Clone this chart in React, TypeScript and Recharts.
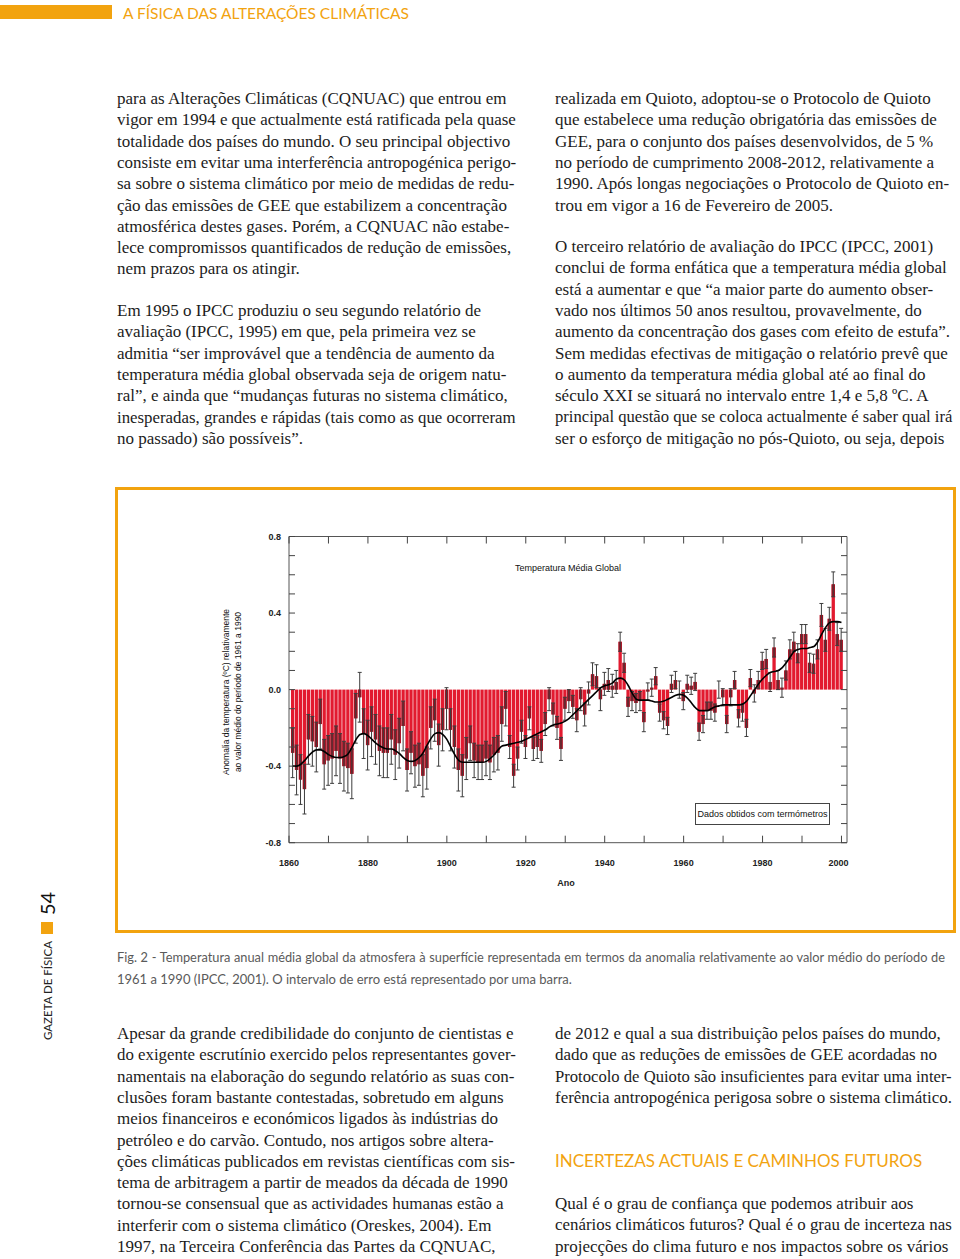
import React from 'react';
import { ComposedChart, Bar, Line, XAxis, YAxis, ErrorBar, ReferenceArea } from 'recharts';

// ---------------- data ----------------
const START_YEAR = 1861;

const ANOMALY = [
  -0.33, -0.42, -0.47, -0.52, -0.26, -0.27, -0.30, -0.18, -0.39, -0.37,
  -0.36, -0.32, -0.36, -0.40, -0.41, -0.44, -0.15, -0.04, -0.23, -0.29,
  -0.22, -0.26, -0.32, -0.33, -0.33, -0.26, -0.34, -0.28, -0.19, -0.42,
  -0.33, -0.40, -0.39, -0.45, -0.41, -0.20, -0.16, -0.29, -0.21, -0.10,
  -0.21, -0.30, -0.42, -0.45, -0.36, -0.28, -0.37, -0.38, -0.38, -0.36,
  -0.38, -0.34, -0.33, -0.18, -0.10, -0.30, -0.45, -0.36, -0.22, -0.30,
  -0.15, -0.31, -0.30, -0.32, -0.18, -0.05, -0.13, -0.20, -0.31, -0.10,
  -0.06, -0.09, -0.16, -0.05, -0.13, -0.02, 0.08, 0.07, -0.05, 0.03,
  0.05, 0.02, 0.04, 0.25, 0.14, -0.09, -0.06, -0.07, -0.06, -0.17,
  -0.01, 0.01, 0.07, -0.12, -0.16, -0.19, 0.03, 0.05, 0.0, -0.06,
  0.03, 0.02, 0.04, -0.22, -0.18, -0.11, -0.11, -0.12, 0.0, -0.04,
  -0.18, -0.04, 0.05, -0.15, -0.12, -0.20, 0.06, -0.02, 0.05, 0.15,
  0.16, 0.04, 0.22, 0.05, 0.01, 0.10, 0.21, 0.25, 0.19, 0.29,
  0.29, 0.14, 0.135, 0.21, 0.39, 0.26, 0.37, 0.55, 0.29, 0.26,
];

const ERROR = [
  0.13, 0.13, 0.13, 0.13, 0.13, 0.13, 0.13, 0.13, 0.13, 0.13,
  0.13, 0.13, 0.13, 0.13, 0.13, 0.13, 0.13, 0.13, 0.13, 0.13,
  0.13, 0.13, 0.13, 0.13, 0.13, 0.13, 0.13, 0.13, 0.13, 0.11,
  0.11, 0.11, 0.11, 0.11, 0.11, 0.11, 0.11, 0.11, 0.11, 0.11,
  0.11, 0.11, 0.11, 0.11, 0.11, 0.09, 0.09, 0.09, 0.09, 0.09,
  0.09, 0.09, 0.09, 0.09, 0.09, 0.06, 0.06, 0.06, 0.06, 0.06,
  0.06, 0.06, 0.06, 0.06, 0.06, 0.06, 0.06, 0.06, 0.06, 0.06,
  0.06, 0.06, 0.06, 0.06, 0.06, 0.06, 0.06, 0.06, 0.06, 0.06,
  0.06, 0.06, 0.06, 0.05, 0.05, 0.05, 0.05, 0.05, 0.05, 0.05,
  0.045, 0.045, 0.045, 0.045, 0.045, 0.045, 0.045, 0.045, 0.045, 0.045,
  0.045, 0.045, 0.045, 0.045, 0.045, 0.045, 0.045, 0.045, 0.045, 0.045,
  0.045, 0.045, 0.045, 0.045, 0.045, 0.045, 0.045, 0.045, 0.045, 0.045,
  0.05, 0.05, 0.05, 0.05, 0.05, 0.05, 0.05, 0.05, 0.05, 0.05,
  0.05, 0.05, 0.05, 0.05, 0.06, 0.06, 0.06, 0.065, 0.06, 0.06,
];

const SMOOTH = [
  -0.40, -0.40, -0.39, -0.37, -0.345, -0.325, -0.315, -0.315, -0.325, -0.34,
  -0.35, -0.355, -0.355, -0.35, -0.335, -0.30, -0.26, -0.235, -0.23, -0.24,
  -0.26, -0.28, -0.295, -0.305, -0.31, -0.31, -0.32, -0.335, -0.355, -0.37,
  -0.375, -0.37, -0.355, -0.33, -0.29, -0.255, -0.23, -0.225, -0.235, -0.26,
  -0.30, -0.34, -0.37, -0.38, -0.38, -0.38, -0.38, -0.38, -0.38, -0.375,
  -0.36, -0.34, -0.315, -0.295, -0.29, -0.285, -0.28, -0.275, -0.27, -0.26,
  -0.25, -0.24, -0.23, -0.22, -0.21, -0.195, -0.185, -0.18, -0.175, -0.165,
  -0.15, -0.13, -0.11, -0.09, -0.07, -0.05, -0.03, -0.01, 0.01, 0.02,
  0.025, 0.035, 0.055, 0.06, 0.05, 0.02, -0.02, -0.05, -0.055, -0.055,
  -0.055, -0.06, -0.065, -0.065, -0.06, -0.05, -0.04, -0.03, -0.025, -0.03,
  -0.045, -0.07, -0.095, -0.11, -0.11, -0.11, -0.10, -0.09, -0.085, -0.08,
  -0.08, -0.08, -0.08, -0.08, -0.075, -0.06, -0.03, 0.0, 0.03, 0.055,
  0.075, 0.09, 0.095, 0.10, 0.115, 0.14, 0.17, 0.20, 0.21, 0.215,
  0.215, 0.22, 0.225, 0.25, 0.29, 0.325, 0.35, 0.355, 0.355, 0.35,
];

const X_TICKS = [1860, 1870, 1880, 1890, 1900, 1910, 1920, 1930, 1940, 1950, 1960, 1970, 1980, 1990, 2000];
const X_LABELS = [1860, 1880, 1900, 1920, 1940, 1960, 1980, 2000];
const X_DOMAIN = [1860, 2001.4];
const Y_TICKS = [-0.8, -0.7, -0.6, -0.5, -0.4, -0.3, -0.2, -0.1, 0, 0.1, 0.2, 0.3, 0.4, 0.5, 0.6, 0.7, 0.8];
const Y_LABELS = ['-0.8', '-0.4', '0.0', '0.4', '0.8'];
const Y_DOMAIN = [-0.8, 0.8];

const data = ANOMALY.map((v, i) => ({
  year: START_YEAR + i,
  value: v,
  err: ERROR[i],
  smooth: SMOOTH[i],
}));

// ---------------- layout ----------------
const CHART_LEFT = 118;
const CHART_TOP = 490;
const CHART_W = 835;
const CHART_H = 440;
const Y_AXIS_W = 40;
const X_AXIS_H = 30;
const PL = 171;
const PT = 46.5;
const PW = 558;
const PH = 306.2;
const PR = PL + PW;
const PB = PT + PH;

const ORANGE = '#f2a30f';
const SANS = '"Liberation Sans", Arial, sans-serif';
const SERIF = '"Liberation Serif", "Times New Roman", serif';
const HUMAN = 'Lato, "Open Sans", sans-serif';

const fmtY = (v: number) => (Math.abs(v) < 1e-9 ? '0.0' : v.toFixed(1));

const YTick = (props: any) => {
  const { y, payload } = props;
  const lbl = fmtY(payload.value);
  return (
    <g>
      <line x1={PL} x2={PL + 6} y1={y} y2={y} stroke="#444" strokeWidth={1} />
      <line x1={PR - 6} x2={PR} y1={y} y2={y} stroke="#444" strokeWidth={1} />
      {Y_LABELS.includes(lbl) && (
        <text x={PL - 8} y={y} dy={3.3} textAnchor="end" fontSize={9} fontWeight="bold" fontFamily={SANS} fill="#222">
          {lbl}
        </text>
      )}
    </g>
  );
};

const XTick = (props: any) => {
  const { x, payload } = props;
  const yr = payload.value;
  return (
    <g>
      <line x1={x} x2={x} y1={PB} y2={PB - 7} stroke="#444" strokeWidth={1} />
      <line x1={x} x2={x} y1={PT} y2={PT + 7} stroke="#444" strokeWidth={1} />
      {X_LABELS.includes(yr) && (
        <text x={yr === 2000 ? x - 3 : x} y={PB + 23.5} textAnchor="middle" fontSize={9} fontWeight="bold" fontFamily={SANS} fill="#222">
          {yr}
        </text>
      )}
    </g>
  );
};

const BarShape = (props: any) => {
  const { x, y, width, height, payload } = props;
  if (x == null || y == null || height == null || !payload) return null;
  const top = Math.min(y, y + height);
  const h = Math.abs(height);
  const v = payload.value;
  let dark = null;
  if (Math.abs(v) > 1e-6 && h > 0) {
    const ppu = h / Math.abs(v);
    const dh = Math.min(payload.err * ppu, h);
    const dy = v > 0 ? top : top + h - dh;
    dark = <rect x={x} y={dy} width={width} height={dh} fill="#9a1222" />;
  }
  return (
    <g>
      <rect x={x} y={top} width={width} height={h} fill="#e21a2f" />
      {dark}
    </g>
  );
};

// ---------------- text content ----------------
const LH = 21.3;
const COL1_X = 117;
const COL2_X = 555;
const COL1_MAX = 399;
const COL2_MAX = 397;

const COL1_TOP = [
  'para as Alterações Climáticas (CQNUAC) que entrou em',
  'vigor em 1994 e que actualmente está ratificada pela quase',
  'totalidade dos países do mundo. O seu principal objectivo',
  'consiste em evitar uma interferência antropogénica perigo-',
  'sa sobre o sistema climático por meio de medidas de redu-',
  'ção das emissões de GEE que estabilizem a concentração',
  'atmosférica destes gases. Porém, a CQNUAC não estabe-',
  'lece compromissos quantificados de redução de emissões,',
  'nem prazos para os atingir.',
];
const COL1_P2 = [
  'Em 1995 o IPCC produziu o seu segundo relatório de',
  'avaliação (IPCC, 1995) em que, pela primeira vez se',
  'admitia “ser improvável que a tendência de aumento da',
  'temperatura média global observada seja de origem natu-',
  'ral”, e ainda que “mudanças futuras no sistema climático,',
  'inesperadas, grandes e rápidas (tais como as que ocorreram',
  'no passado) são possíveis”.',
];
const COL2_P1 = [
  'realizada em Quioto, adoptou-se o Protocolo de Quioto',
  'que estabelece uma redução obrigatória das emissões de',
  'GEE, para o conjunto dos países desenvolvidos, de 5 %',
  'no período de cumprimento 2008-2012, relativamente a',
  '1990. Após longas negociações o Protocolo de Quioto en-',
  'trou em vigor a 16 de Fevereiro de 2005.',
];
const COL2_P2 = [
  'O terceiro relatório de avaliação do IPCC (IPCC, 2001)',
  'conclui de forma enfática que a temperatura média global',
  'está a aumentar e que “a maior parte do aumento obser-',
  'vado nos últimos 50 anos resultou, provavelmente, do',
  'aumento da concentração dos gases com efeito de estufa”.',
  'Sem medidas efectivas de mitigação o relatório prevê que',
  'o aumento da temperatura média global até ao final do',
  'século XXI se situará no intervalo entre 1,4 e 5,8 ºC. A',
  'principal questão que se coloca actualmente é saber qual irá',
  'ser o esforço de mitigação no pós-Quioto, ou seja, depois',
];
const COL1_BOTTOM = [
  'Apesar da grande credibilidade do conjunto de cientistas e',
  'do exigente escrutínio exercido pelos representantes gover-',
  'namentais na elaboração do segundo relatório as suas con-',
  'clusões foram bastante contestadas, sobretudo em alguns',
  'meios financeiros e económicos ligados às indústrias do',
  'petróleo e do carvão. Contudo, nos artigos sobre altera-',
  'ções climáticas publicados em revistas científicas com sis-',
  'tema de arbitragem a partir de meados da década de 1990',
  'tornou-se consensual que as actividades humanas estão a',
  'interferir com o sistema climático (Oreskes, 2004). Em',
  '1997, na Terceira Conferência das Partes da CQNUAC,',
];
const COL2_BOTTOM_P1 = [
  'de 2012 e qual a sua distribuição pelos países do mundo,',
  'dado que as reduções de emissões de GEE acordadas no',
  'Protocolo de Quioto são insuficientes para evitar uma inter-',
  'ferência antropogénica perigosa sobre o sistema climático.',
];
const COL2_BOTTOM_P2 = [
  'Qual é o grau de confiança que podemos atribuir aos',
  'cenários climáticos futuros? Qual é o grau de incerteza nas',
  'projecções do clima futuro e nos impactos sobre os vários',
];
const CAPTION = [
  'Fig. 2 - Temperatura anual média global da atmosfera à superfície representada em termos da anomalia relativamente ao valor médio do período de',
  '1961 a 1990 (IPCC, 2001). O intervalo de erro está representado por uma barra.',
];

const FitLine = ({ text, x, top, maxW }: { text: string; x: number; top: number; maxW: number }) => {
  const ref = React.useRef<HTMLDivElement>(null);
  const [sx, setSx] = React.useState(1);
  React.useLayoutEffect(() => {
    const el = ref.current;
    if (!el) return;
    const w = el.scrollWidth;
    if (w > maxW) setSx(maxW / w);
  }, [text, maxW]);
  return (
    <div
      ref={ref}
      style={{
        position: 'absolute',
        left: x,
        top,
        height: LH,
        lineHeight: `${LH}px`,
        fontFamily: SERIF,
        fontSize: 17,
        color: '#1c1c1c',
        whiteSpace: 'nowrap',
        transformOrigin: '0 50%',
        transform: `scaleX(${sx})`,
      }}
    >
      {text}
    </div>
  );
};

const Para = ({ lines, x, y, maxW }: { lines: string[]; x: number; y: number; maxW: number }) => (
  <>
    {lines.map((t, i) => (
      <FitLine key={i} text={t} x={x} top={y + i * LH - 11} maxW={maxW} />
    ))}
  </>
);

export default function App() {
  return (
    <div style={{ position: 'absolute', left: 0, top: 0, width: 960, height: 1259, background: '#fff', overflow: 'hidden' }}>
      {/* header */}
      <div style={{ position: 'absolute', left: 0, top: 5, width: 112, height: 14, background: ORANGE }} />
      <div style={{ position: 'absolute', left: 123, top: 3, fontFamily: HUMAN, fontSize: 15.5, lineHeight: '20px', color: ORANGE, whiteSpace: 'nowrap' }}>
        A FÍSICA DAS ALTERAÇÕES CLIMÁTICAS
      </div>

      {/* body text */}
      <Para lines={COL1_TOP} x={COL1_X} y={99} maxW={COL1_MAX} />
      <Para lines={COL1_P2} x={COL1_X} y={311} maxW={COL1_MAX} />
      <Para lines={COL2_P1} x={COL2_X} y={99} maxW={COL2_MAX} />
      <Para lines={COL2_P2} x={COL2_X} y={247} maxW={COL2_MAX} />

      {/* figure frame */}
      <div style={{ position: 'absolute', left: 115, top: 487, width: 841, height: 446, border: `3px solid ${ORANGE}`, boxSizing: 'border-box' }} />

      <div style={{ position: 'absolute', left: CHART_LEFT, top: CHART_TOP, width: CHART_W, height: CHART_H }}>
        <ComposedChart
          width={CHART_W}
          height={CHART_H}
          data={data}
          margin={{ left: PL - Y_AXIS_W, top: PT, right: CHART_W - PR, bottom: CHART_H - PB - X_AXIS_H }}
        >
          <XAxis
            dataKey="year"
            type="number"
            domain={X_DOMAIN}
            ticks={X_TICKS}
            interval={0}
            axisLine={false}
            tickLine={false}
            height={X_AXIS_H}
            tick={<XTick />}
            allowDataOverflow
          />
          <YAxis
            type="number"
            domain={Y_DOMAIN}
            ticks={Y_TICKS}
            interval={0}
            axisLine={false}
            tickLine={false}
            width={Y_AXIS_W}
            tick={<YTick />}
            allowDataOverflow
          />
          <ReferenceArea x1={X_DOMAIN[0]} x2={X_DOMAIN[1]} y1={Y_DOMAIN[0]} y2={Y_DOMAIN[1]} fill="none" stroke="#555" strokeWidth={1} ifOverflow="visible" />
          <Bar dataKey="value" barSize={3.3} shape={<BarShape />} isAnimationActive={false}>
            <ErrorBar dataKey="err" width={2} strokeWidth={1} stroke="#3d3d3d" direction="y" />
          </Bar>
          <Line dataKey="smooth" type="monotone" stroke="#000" strokeWidth={1.6} dot={false} isAnimationActive={false} />
        </ComposedChart>
      </div>

      {/* chart texts */}
      <div style={{ position: 'absolute', left: 515, top: 562, fontFamily: SANS, fontSize: 9, lineHeight: '12px', color: '#111', whiteSpace: 'nowrap' }}>
        Temperatura Média Global
      </div>
      <div style={{ position: 'absolute', left: 695, top: 803, width: 135, height: 22, border: '1px solid #444', boxSizing: 'border-box', fontFamily: SANS, fontSize: 9, lineHeight: '20px', textAlign: 'center', color: '#111', whiteSpace: 'nowrap', background: '#fff' }}>
        Dados obtidos com termómetros
      </div>
      <div style={{ position: 'absolute', left: 232, top: 692, transform: 'translate(-50%, -50%) rotate(-90deg)', fontFamily: SANS, fontSize: 8.5, lineHeight: '12px', textAlign: 'center', color: '#111', whiteSpace: 'nowrap' }}>
        Anomalia da temperatura (ºC) relativamente<br />ao valor médio do período de 1961 a 1990
      </div>
      <div style={{ position: 'absolute', left: 566, top: 883, transform: 'translate(-50%, -50%)', fontFamily: SANS, fontSize: 9, fontWeight: 'bold', color: '#222' }}>
        Ano
      </div>

      {/* caption */}
      <div style={{ position: 'absolute', left: 117, top: 949, width: 828, fontFamily: HUMAN, fontSize: 12.8, lineHeight: '16px', color: '#5a5a5a', textAlign: 'justify', textAlignLast: 'justify', whiteSpace: 'nowrap' }}>
        {CAPTION[0]}
      </div>
      <div style={{ position: 'absolute', left: 117, top: 971, fontFamily: HUMAN, fontSize: 13, lineHeight: '16px', color: '#5a5a5a', whiteSpace: 'nowrap' }}>
        {CAPTION[1]}
      </div>

      {/* side label */}
      <div style={{ position: 'absolute', left: 47, top: 1040, transformOrigin: '0 0', transform: 'rotate(-90deg) translateY(-50%)', display: 'flex', alignItems: 'center', whiteSpace: 'nowrap' }}>
        <span style={{ fontFamily: HUMAN, fontSize: 11.5, color: '#222' }}>GAZETA DE FÍSICA</span>
        <span style={{ display: 'inline-block', width: 12, height: 12, background: ORANGE, marginLeft: 7 }} />
        <span style={{ fontFamily: HUMAN, fontSize: 20, color: '#111', marginLeft: 7 }}>54</span>
      </div>

      {/* lower text */}
      <Para lines={COL1_BOTTOM} x={COL1_X} y={1034} maxW={COL1_MAX} />
      <Para lines={COL2_BOTTOM_P1} x={COL2_X} y={1034} maxW={COL2_MAX} />
      <div style={{ position: 'absolute', left: 555, top: 1150, fontFamily: HUMAN, fontSize: 17, lineHeight: '22px', color: ORANGE, whiteSpace: 'nowrap' }}>
        INCERTEZAS ACTUAIS E CAMINHOS FUTUROS
      </div>
      <Para lines={COL2_BOTTOM_P2} x={COL2_X} y={1204} maxW={COL2_MAX} />
    </div>
  );
}
